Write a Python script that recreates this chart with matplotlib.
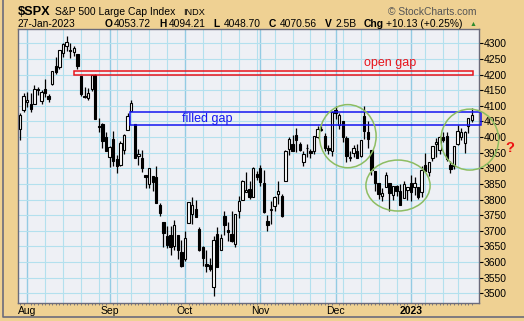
import numpy as np
import pandas as pd
import matplotlib
matplotlib.use("Agg")
import matplotlib.pyplot as plt
from matplotlib.patches import Rectangle, Ellipse
from matplotlib.lines import Line2D

# trading days shown (weekdays minus market holidays)
holidays = ["2022-09-05", "2022-11-24", "2022-12-26", "2023-01-02", "2023-01-16"]
dates = pd.bdate_range("2022-07-28", "2023-01-27").drop(pd.to_datetime(holidays))

opens = [4026, 4087,
         4112, 4105, 4107, 4154, 4115, 4155, 4133, 4171, 4227, 4225, 4269, 4290, 4280, 4273,
         4266, 4195, 4133, 4126, 4153, 4198, 4034, 4041, 4000,
         3937, 3994, 3930, 3910, 3960, 4023, 4084, 4041, 3940, 3932, 3880, 3849, 3875, 3871,
         3782, 3727, 3682, 3686, 3651, 3687, 3633,
         3609, 3726, 3753, 3771, 3706, 3647, 3595, 3590, 3520, 3690, 3638, 3746, 3703, 3689,
         3657, 3762, 3799, 3825, 3834, 3808, 3881,
         3901, 3853, 3733, 3766, 3780, 3817, 3810, 3859, 3963, 3977, 4007, 3977, 3919, 3966,
         3956, 3956, 4000, 4023, 4005, 3964, 3957,
         4087, 4040, 4053, 3996, 3934, 3948, 3954, 3940, 4069, 4015, 3958, 3890, 3853, 3811,
         3840, 3853, 3815, 3843, 3829, 3805, 3830,
         3853, 3840, 3840, 3823, 3910, 3888, 3932, 3977, 3960, 3999, 4003, 3911, 3909, 3978,
         4001, 3982, 4036, 4053.72]
highs = [4078, 4140,
         4144, 4141, 4168, 4161, 4151, 4187, 4137, 4211, 4257, 4280, 4301, 4325, 4302, 4292,
         4267, 4196, 4159, 4156, 4200, 4203, 4062, 4044, 4016,
         3970, 4019, 3942, 3987, 4010, 4076, 4119, 4041, 3961, 3959, 3880, 3900, 3876, 3907,
         3790, 3727, 3716, 3717, 3736, 3688, 3671,
         3698, 3791, 3807, 3798, 3713, 3652, 3640, 3613, 3685, 3713, 3689, 3762, 3728, 3763,
         3753, 3810, 3862, 3887, 3860, 3905, 3893,
         3911, 3894, 3750, 3796, 3813, 3859, 3818, 3958, 4001, 4008, 4028, 3983, 3954, 3979,
         3962, 4003, 4034, 4035, 4013, 3976, 4080,
         4101, 4077, 4053, 4002, 3957, 3974, 3977, 3991, 4100, 4053, 3958, 3890, 3854, 3838,
         3889, 3853, 3845, 3846, 3849, 3858, 3839,
         3878, 3873, 3840, 3906, 3950, 3919, 3970, 3998, 4003, 4015, 4017, 3923, 3973, 4039,
         4028, 4019, 4061, 4094.21]
lows = [3992, 4079,
        4097, 4079, 4107, 4135, 4107, 4128, 4112, 4167, 4201, 4219, 4256, 4277, 4254, 4261,
        4218, 4130, 4124, 4120, 4147, 4057, 4017, 3965, 3954,
        3903, 3907, 3886, 3906, 3945, 4022, 4083, 3933, 3912, 3888, 3837, 3838, 3827, 3789,
        3749, 3647, 3644, 3623, 3640, 3610, 3584,
        3604, 3726, 3722, 3745, 3636, 3588, 3568, 3571, 3491, 3584, 3638, 3686, 3666, 3664,
        3647, 3741, 3799, 3824, 3803, 3808, 3863,
        3843, 3758, 3699, 3722, 3764, 3786, 3745, 3859, 3944, 3956, 3953, 3954, 3906, 3937,
        3933, 3946, 3998, 4020, 3955, 3946, 3938,
        4058, 4027, 3984, 3919, 3922, 3935, 3933, 3935, 3994, 3966, 3879, 3828, 3803, 3795,
        3840, 3765, 3798, 3813, 3783, 3805, 3800,
        3794, 3815, 3802, 3809, 3890, 3877, 3925, 3937, 3947, 3984, 3925, 3885, 3898, 3974,
        3990, 3949, 4013, 4048.70]
closes = [4072, 4130,
          4119, 4091, 4155, 4152, 4145, 4140, 4122, 4210, 4207, 4280, 4297, 4305, 4274, 4284,
          4228, 4138, 4129, 4141, 4199, 4058, 4031, 3986, 3955,
          3967, 3924, 3908, 3980, 4006, 4067, 4110, 3933, 3946, 3901, 3873, 3900, 3856, 3790,
          3758, 3693, 3655, 3647, 3719, 3640, 3586,
          3678, 3791, 3783, 3745, 3640, 3612, 3589, 3577, 3670, 3583, 3678, 3720, 3695, 3666,
          3753, 3797, 3859, 3831, 3807, 3901, 3872,
          3856, 3760, 3720, 3771, 3807, 3828, 3749, 3956, 3993, 3957, 3992, 3959, 3947, 3965,
          3950, 4004, 4027, 4026, 3964, 3958, 4080,
          4077, 4072, 3999, 3941, 3934, 3964, 3934, 3991, 4020, 3995, 3896, 3852, 3818, 3822,
          3878, 3822, 3845, 3829, 3783, 3849, 3840,
          3824, 3853, 3808, 3895, 3892, 3919, 3970, 3983, 3999, 3991, 3929, 3899, 3973, 4020,
          4017, 4016, 4060.43, 4070.56]

price_ticks = list(range(3500, 4301, 50))
month_labels = ["Aug", "Sep", "Oct", "Nov", "Dec", "2023"]

# gap zones (low, high) and where they start
open_gap = (4198, 4210)
filled_gap = (4039, 4079)
open_gap_from = "2022-08-19"
filled_gap_from = "2022-09-12"

# circled areas: (centre date, centre price, width in days, height in points)
circles = [("2022-12-06", 4003, 15.8, 202),
           ("2022-12-27", 3845, 17.9, 163),
           ("2023-01-26", 3992, 16.1, 195)]

W, H = 524, 321
TAN = "#efd193"
FRAME = "#6b6b7b"
GREEN = "#8dbd62"

opens, highs, lows, closes = map(np.array, (opens, highs, lows, closes))
x = np.arange(len(dates))

fig = plt.figure(figsize=(W / 100, H / 100), dpi=100, facecolor=TAN)
plt.rcParams["font.family"] = ["Liberation Sans", "DejaVu Sans"]
ax = fig.add_axes([18.3 / W, 1 - 302.7 / H, (478.7 - 18.3) / W, (302.7 - 29) / H])
ax.set_facecolor("#eef0f5")
ax.set_xlim(-0.47, 127.9)
ax.set_ylim(3470, 4346)

# grid: weekly and monthly verticals, 50pt horizontals
week = dates.isocalendar().week.values
new_week = np.r_[False, week[1:] != week[:-1]]
new_month = np.r_[False, dates.month[1:] != dates.month[:-1]]
for i in x[new_week & ~new_month]:
    ax.axvline(i, color="#b3e0ee", linewidth=0.8, zorder=0)
for i in x[new_month]:
    ax.axvline(i, color="#93cbe3", linewidth=1.0, zorder=0)
for p in price_ticks:
    ax.axhline(p, color="#b3e0ee", linewidth=0.8, zorder=0)

# candles
up = closes >= opens
ax.vlines(x, lows, highs, color="black", linewidth=0.9, zorder=3)
body_lo = np.minimum(opens, closes)
body_h = np.maximum(np.abs(closes - opens), 1.5)
ax.bar(x, body_h, bottom=body_lo, width=0.66, color=np.where(up, "white", "black"),
       edgecolor="black", linewidth=0.8, zorder=4)

# gaps
x0 = dates.get_loc(pd.Timestamp(open_gap_from)) - 0.9
ax.add_patch(Rectangle((x0, open_gap[0]), x[-1] + 0.2 - x0, open_gap[1] - open_gap[0],
                       fill=False, edgecolor="#e8141c", linewidth=1.1, zorder=5))
x1 = dates.get_loc(pd.Timestamp(filled_gap_from)) - 0.3
ax.add_patch(Rectangle((x1, filled_gap[0]), x[-1] + 2.6 - x1, filled_gap[1] - filled_gap[0],
                       fill=False, edgecolor="#1414f0", linewidth=1.1, zorder=5, clip_on=False))
ax.text(103.2, 4236, "open gap", color="#e8141c", fontsize=9, ha="center", va="center", zorder=6)
ax.text(45.1, 4058, "filled gap", color="#1414f0", fontsize=9, ha="left", va="center", zorder=6)

for d, p, w, h in circles:
    ax.add_patch(Ellipse((dates.get_loc(pd.Timestamp(d)) + 0.4, p), w, h, fill=False,
                         edgecolor=GREEN, linewidth=1.1, zorder=6, clip_on=False))

# axes styling
for s in ax.spines.values():
    s.set_color(FRAME)
    s.set_linewidth(1.0)
ax.yaxis.tick_right()
ax.set_yticks(price_ticks)
ax.tick_params(axis="y", direction="out", length=3, width=0.8, pad=0.5, labelsize=7.5,
               color="black")
ax.set_xticks(x[new_month | (x == 2)])
ax.set_xticklabels(month_labels)
ax.tick_params(axis="x", length=0, pad=2.5, labelsize=7.5)
ax.get_xticklabels()[-1].set_fontweight("bold")
ax.set_xticks(x, minor=True)
ax.tick_params(axis="x", which="minor", direction="out", length=1.5, width=0.6, color=FRAME)


# header
def ftext(px, py, s, **kw):
    fig.text(px / W, 1 - py / H, s, va="baseline", **kw)


ftext(18, 15, "$SPX", fontsize=9.2, fontweight="bold")
ftext(55.3, 15, "S&P 500 Large Cap Index", fontsize=7.5)
ftext(183, 15, "INDX", fontsize=6.6)
ftext(387.7, 15, "\u00a9 StockCharts.com", fontsize=7.4, color="#555555")
ftext(18, 26.7, dates[-1].strftime("%d-%b-%Y"), fontsize=7.4)
chg = closes[-1] - closes[-2]
pieces = [(104.3, "O", True), (114.3, f"{opens[-1]:.2f}", False),
          (159, "H", True), (169.3, f"{highs[-1]:.2f}", False),
          (213.3, "L", True), (224, f"{lows[-1]:.2f}", False),
          (268.7, "C", True), (280, f"{closes[-1]:.2f}", False),
          (325, "V", True), (335, "2.5B", False),
          (363.3, "Chg", True), (385.7, f"{chg:+.2f} ({chg / closes[-2] * 100:+.2f}%)", False)]
for px, s, bold in pieces:
    ftext(px, 26.7, s, fontsize=7.4, fontweight="bold" if bold else "normal")
ftext(470, 26.2, "\u25b2", fontsize=5, color="#2e8b2e")
ftext(505, 152, "?", fontsize=10.5, fontweight="bold", color="#ee1111")

# outer frame (left and bottom edges visible)
fig.add_artist(Line2D([2.7 / W, 2.7 / W, 1], [1, 1 - 317 / H, 1 - 317 / H],
                      transform=fig.transFigure, color=FRAME, linewidth=1.2))

fig.savefig("out.png", dpi=100, facecolor=TAN)
